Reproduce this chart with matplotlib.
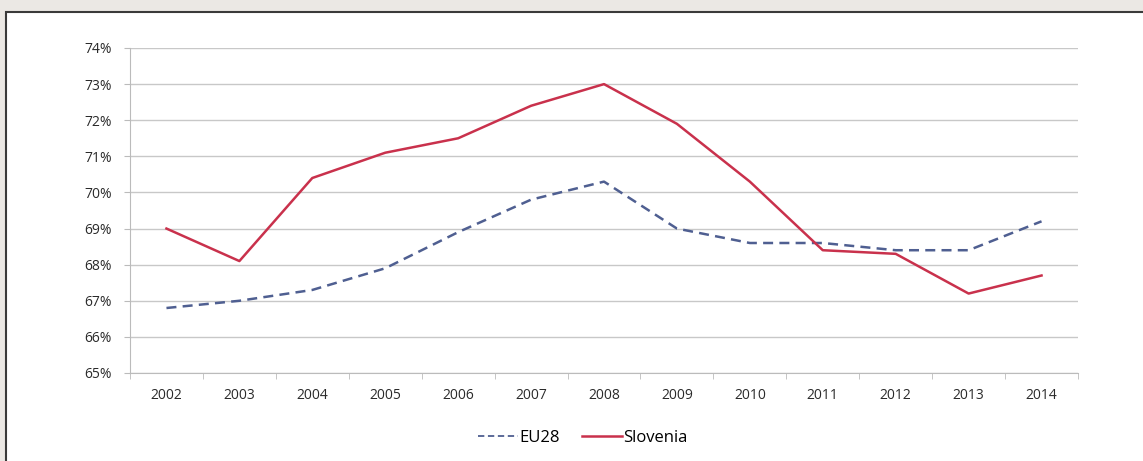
import numpy as np
import matplotlib.pyplot as plt
from matplotlib.patches import Rectangle
from matplotlib.lines import Line2D
from matplotlib.ticker import FuncFormatter

years = ['2002', '2003', '2004', '2005', '2006', '2007', '2008',
         '2009', '2010', '2011', '2012', '2013', '2014']
eu28 = [66.8, 67.0, 67.3, 67.9, 68.9, 69.8, 70.3, 69.0, 68.6, 68.6, 68.4, 68.4, 69.2]
slovenia = [69.0, 68.1, 70.4, 71.1, 71.5, 72.4, 73.0, 71.9, 70.3, 68.4, 68.3, 67.2, 67.7]

EU_COL = '#4f5f91'
SI_COL = '#c9314c'

plt.rcParams['font.family'] = ['Open Sans', 'DejaVu Sans']

fig = plt.figure(figsize=(11.43, 4.61), dpi=100)
fig.patch.set_facecolor('#ebe8e4')
# white panel with dark frame
fig.patches.append(Rectangle((6 / 1143, -0.05), 1.1, (461 - 12) / 461 + 0.05,
                             transform=fig.transFigure, facecolor='white',
                             edgecolor='#3a3a3a', linewidth=1.5, zorder=-10))

ax = fig.add_axes([130 / 1143, 88 / 461, 948 / 1143, 325 / 461])
ax.set_zorder(1)
ax.set_facecolor('none')
x = np.arange(len(years))
ax.plot(x, eu28, color=EU_COL, lw=1.8, ls=(0, (4, 2.5)))
ax.plot(x, slovenia, color=SI_COL, lw=1.8)

ax.set_xlim(-0.5, len(years) - 0.5)
ax.set_ylim(65, 74)
ax.set_yticks(range(65, 75))
ax.yaxis.set_major_formatter(FuncFormatter(lambda v, p: f'{v:.0f}%'))
ax.set_xticks(x)
ax.set_xticklabels(years)
ax.set_xticks(np.arange(-0.5, len(years)), minor=True)
ax.tick_params(axis='x', which='major', length=0, pad=11, labelsize=10, colors='#2a2a2a')
ax.tick_params(axis='x', which='minor', length=4, color='#bbbbbb')
ax.tick_params(axis='y', length=4, color='#bbbbbb', labelsize=10, colors='#2a2a2a', pad=9)
ax.grid(axis='y', color='#c8c8c8', lw=1)
ax.set_axisbelow(True)
for s in ['top', 'right']:
    ax.spines[s].set_visible(False)
ax.spines['left'].set_color('#bbbbbb')
ax.spines['bottom'].set_color('#bbbbbb')

handles = [Line2D([], [], color=EU_COL, lw=1.3, ls=(0, (3.5, 2))),
           Line2D([], [], color=SI_COL, lw=1.8)]
fig.legend(handles, ['EU28', 'Slovenia'], loc='center',
           bbox_to_anchor=(583 / 1143, 1 - 438 / 461), ncol=2,
           frameon=False, fontsize=12, handlelength=2.4, handletextpad=0.1,
           columnspacing=1.3)

fig.savefig('out.png', dpi=100, facecolor=fig.get_facecolor())
